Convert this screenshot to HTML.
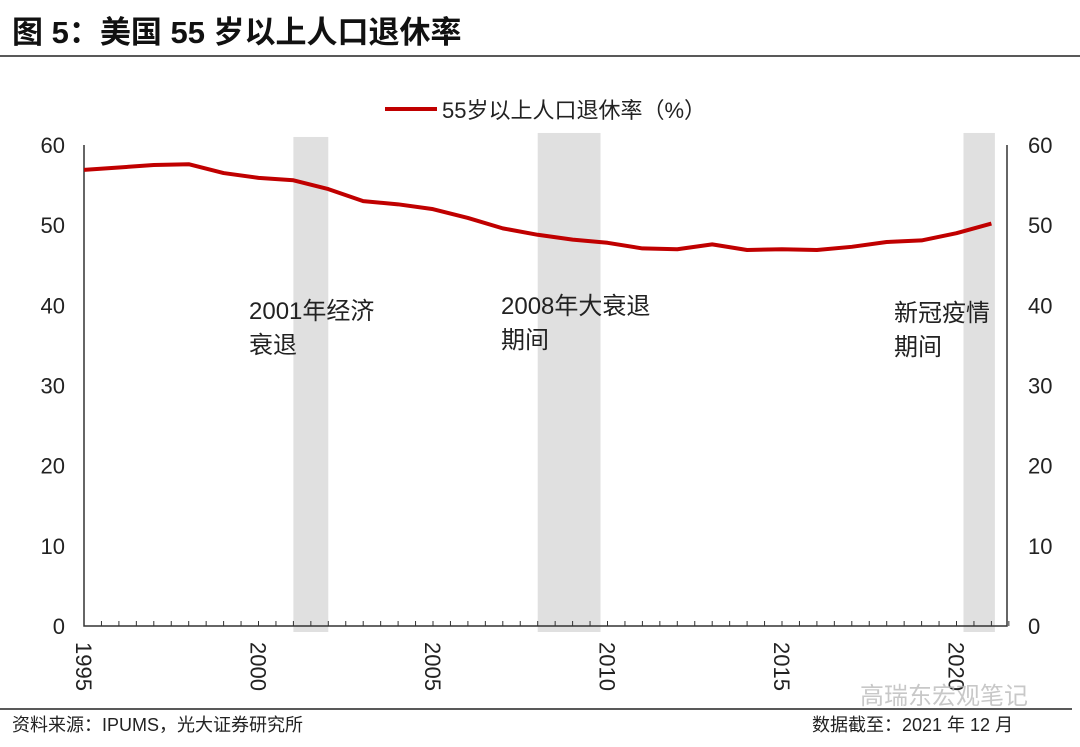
<!DOCTYPE html>
<html><head><meta charset="utf-8"><style>
body{margin:0;background:#fff;width:1080px;height:747px;overflow:hidden;font-family:"Liberation Sans","Noto Sans CJK SC",sans-serif;}
</style></head><body>
<svg width="1080" height="747" style="position:absolute;left:0;top:0" font-family="Liberation Sans, Noto Sans CJK SC, sans-serif">
<text x="12" y="43" font-size="31" font-weight="bold" fill="#111">图 5：美国 55 岁以上人口退休率</text>
<line x1="0" y1="56" x2="1080" y2="56" stroke="#222" stroke-width="1.5"/>
<g id="bars"></g>
<g id="axes"></g>
<g id="series"></g>
<g>
<line x1="385" y1="109" x2="437" y2="109" stroke="#c00000" stroke-width="4"/>
<text x="442" y="118" font-size="22" fill="#222">55岁以上人口退休率（%）</text>
</g>
<g font-size="24" fill="#222">
<text x="249" y="319">2001年经济</text>
<text x="249" y="353">衰退</text>
<text x="501" y="314">2008年大衰退</text>
<text x="501" y="348">期间</text>
<text x="894" y="321">新冠疫情</text>
<text x="894" y="355">期间</text>
</g>
<line x1="0" y1="709" x2="1072" y2="709" stroke="#222" stroke-width="1.5"/>
<text x="12" y="731" font-size="18" fill="#222">资料来源：IPUMS，光大证券研究所</text>
<text x="812" y="731" font-size="18" fill="#222">数据截至：2021 年 12 月</text>
<text x="860" y="704" font-size="24" fill="#bbb" opacity="0.8">高瑞东宏观笔记</text>
</svg>
<script>
const years=[1995,1996,1997,1998,1999,2000,2001,2002,2003,2004,2005,2006,2007,2008,2009,2010,2011,2012,2013,2014,2015,2016,2017,2018,2019,2020,2021];
const rates=[56.9,57.2,57.5,57.6,56.5,55.9,55.6,54.5,53.0,52.6,52.0,50.9,49.6,48.8,48.2,47.8,47.1,47.0,47.6,46.9,47.0,46.9,47.3,47.9,48.1,49.0,50.2];
const yTicks=[0,10,20,30,40,50,60];
const xLabels=[1995,2000,2005,2010,2015,2020];
const recStart=[2001.0,2008.0,2020.2];
const recEnd=[2002.0,2009.8,2021.1];
const recTop=[61,61.5,61.5];
const NS='http://www.w3.org/2000/svg';
const X0=84,X1=1007,Y0=626,Y60=145;
const x=t=>X0+(t-1995)*34.9;
const y=v=>Y0-(v/60)*(Y0-Y60);
function mk(tag,attrs,parent){const e=document.createElementNS(NS,tag);for(const k in attrs)e.setAttribute(k,attrs[k]);document.getElementById(parent).appendChild(e);return e;}
recStart.forEach((s,i)=>{
 const r=mk('rect',{x:x(s),y:y(recTop[i]),width:x(recEnd[i])-x(s),height:632-y(recTop[i]),fill:'#e0e0e0'},'bars');
 
 
});
const ax=mk('path',{d:`M${X0},${Y60}V${Y0}H${X1}V${Y60}`,fill:'none',stroke:'#333','stroke-width':1.5},'axes');


for(let t=1995;t<=2021.5;t+=0.5){mk('line',{x1:x(t),y1:Y0,x2:x(t),y2:Y0-5,stroke:'#333','stroke-width':1},'axes');}
yTicks.forEach(v=>{
 const l=mk('text',{x:65,y:y(v)+8,'font-size':22,'text-anchor':'end',fill:'#222'},'axes');l.textContent=v;
 
 
 const r=mk('text',{x:1028,y:y(v)+8,'font-size':22,fill:'#222'},'axes');r.textContent=v;
 
 
});
xLabels.forEach(t=>{
 const l=mk('text',{x:0,y:0,'font-size':22,fill:'#222',transform:`translate(${x(t)-8},642) rotate(90)`},'axes');l.textContent=t;
 
 
});
const p=mk('polyline',{points:years.map((t,i)=>x(t)+','+y(rates[i])).join(' '),fill:'none',stroke:'#c00000','stroke-width':4,'stroke-linejoin':'round'},'series');


</script>
</body></html>
